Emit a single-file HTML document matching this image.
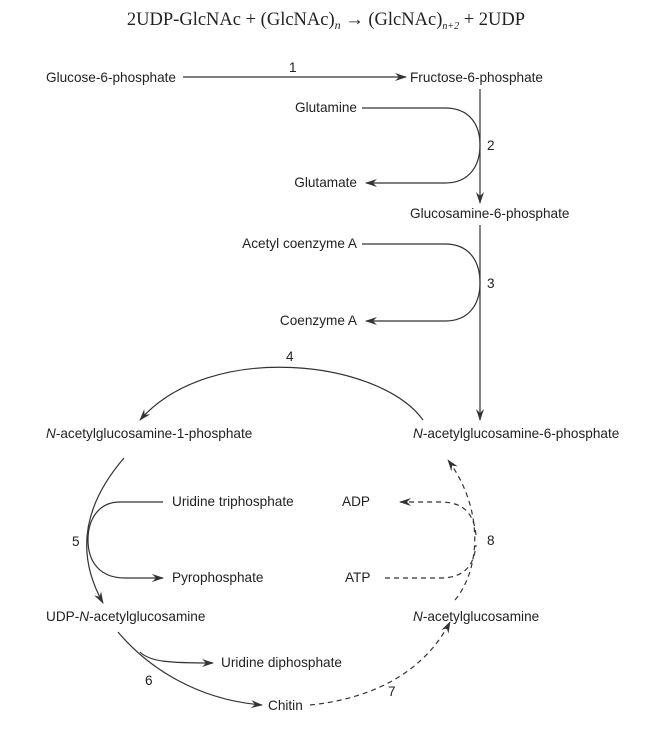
<!DOCTYPE html>
<html><head><meta charset="utf-8"><style>
html,body{margin:0;padding:0;background:#fff;width:652px;height:732px;overflow:hidden}
svg{display:block}
.t{font-family:"Liberation Sans",Arial,sans-serif;font-size:13.6px;fill:#222}
.s{font-family:"Liberation Serif",serif;font-size:18.5px;fill:#222}
</style></head><body>
<svg width="652" height="732" viewBox="0 0 652 732" xmlns="http://www.w3.org/2000/svg">
<defs>
<marker id="a" markerWidth="12" markerHeight="8" refX="11" refY="4" orient="auto" markerUnits="userSpaceOnUse">
<path d="M0,0 L12,4 L0,8 L4,4 Z" fill="#333"/></marker>
</defs>
<text class="s" x="326" y="25" text-anchor="middle">2UDP-GlcNAc + (GlcNAc)<tspan font-style="italic" font-size="12" dy="4">n</tspan><tspan dy="-4"> → (GlcNAc)</tspan><tspan font-style="italic" font-size="10" dy="4">n+2</tspan><tspan dy="-4"> + 2UDP</tspan></text>
<g fill="none" stroke="#333" stroke-width="1.2">
<path d="M183,77 L406,77" marker-end="url(#a)"/>
<path d="M480,89 L480,203" marker-end="url(#a)"/>
<path d="M362,108 L445,108 C470,108 480,125 480,145 C480,165 470,183 445,183 L366,183" marker-end="url(#a)"/>
<path d="M480,225 L480,420" marker-end="url(#a)"/>
<path d="M362,244 L445,244 C470,244 480,262 480,283 C480,303 470,321 445,321 L366,321" marker-end="url(#a)"/>
<path d="M423,420 C380,360 210,340 140,420" marker-end="url(#a)"/>
<path d="M124,458 Q62,530 103,603" marker-end="url(#a)"/>
<path d="M163,502 L120,502 C98,502 88,520 88,540 C88,562 100,578 125,578 L163,578" marker-end="url(#a)"/>
<path d="M118,632 C150,670 200,700 262,705" marker-end="url(#a)"/>
<path d="M140,652 C150,662 170,663 213,663" marker-end="url(#a)"/>
</g>
<g fill="none" stroke="#333" stroke-width="1.2" stroke-dasharray="5,4">
<path d="M310,705 C360,700 420,680 450,622" marker-end="url(#a)"/>
<path d="M455,600 C480,570 485,510 448,460" marker-end="url(#a)"/>
<path d="M476,535 C474,515 465,502 440,502 L400,502" marker-end="url(#a)"/>
<path d="M385,578 L440,578 C465,578 474,565 476,545"/>
</g>
<g class="t">
<text x="46" y="82">Glucose-6-phosphate</text>
<text x="289" y="72">1</text>
<text x="410" y="82">Fructose-6-phosphate</text>
<text x="357" y="112" text-anchor="end">Glutamine</text>
<text x="487" y="150">2</text>
<text x="357" y="187" text-anchor="end">Glutamate</text>
<text x="410" y="218">Glucosamine-6-phosphate</text>
<text x="357" y="248" text-anchor="end">Acetyl coenzyme A</text>
<text x="487" y="288">3</text>
<text x="357" y="325" text-anchor="end">Coenzyme A</text>
<text x="286" y="361">4</text>
<text x="46" y="438"><tspan font-style="italic">N</tspan>-acetylglucosamine-1-phosphate</text>
<text x="413" y="438"><tspan font-style="italic">N</tspan>-acetylglucosamine-6-phosphate</text>
<text x="172" y="506">Uridine triphosphate</text>
<text x="342" y="506">ADP</text>
<text x="72" y="546">5</text>
<text x="487" y="545">8</text>
<text x="172" y="582">Pyrophosphate</text>
<text x="345" y="582">ATP</text>
<text x="46" y="621">UDP-<tspan font-style="italic">N</tspan>-acetylglucosamine</text>
<text x="413" y="621"><tspan font-style="italic">N</tspan>-acetylglucosamine</text>
<text x="221" y="667">Uridine diphosphate</text>
<text x="145" y="685">6</text>
<text x="388" y="696">7</text>
<text x="268" y="710">Chitin</text>
</g>
</svg>
</body></html>
